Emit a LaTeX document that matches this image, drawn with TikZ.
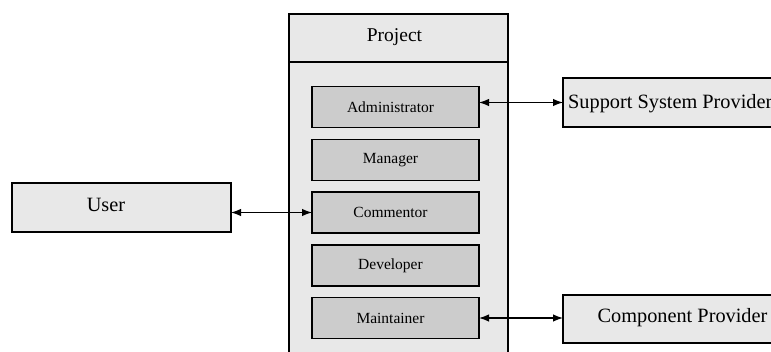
\documentclass[tikz,border=0pt]{standalone}
\usepackage{fontspec}
\setmainfont{Liberation Serif}
\usetikzlibrary{arrows.meta}
\definecolor{panel}{HTML}{E8E8E8}
\definecolor{role}{HTML}{CCCCCC}
\tikzset{
  outerbox/.style={draw=black, line width=1.2pt, fill=panel, inner sep=0pt, outer sep=0pt},
  rolebox/.style={draw=black, line width=1.2pt, fill=role, inner sep=0pt, outer sep=0pt,
    minimum width=167pt, minimum height=41pt, font=\fontsize{15.5}{18}\selectfont,
    execute at begin node={\kern-10pt}},
  actorbox/.style={outerbox, font=\fontsize{19.5}{23}\selectfont},
  actortext/.style={font=\fontsize{20.3}{24}\selectfont, inner sep=0pt},
  link/.style={line width=1.3pt, {Latex[length=10pt,width=7.5pt]}-{Latex[length=10pt,width=7.5pt]}}
}
\begin{document}
\begin{tikzpicture}[x=1pt, y=-1pt]
  \useasboundingbox (0,0) rectangle (771,351);
  \fill[white] (0,0) rectangle (771,351);
  \clip (0,0) rectangle (771,351);

  % project container with its title band
  \node[outerbox, minimum width=219pt, minimum height=48pt, anchor=north west] (project) at (289,14) {};
  \node[font=\fontsize{19.5}{23}\selectfont, inner sep=0pt] (projectlabel) at (394.5,37) {Project};
  \node[outerbox, minimum width=219pt, minimum height=320pt, anchor=north west] (body) at (289,62) {};

  % roles inside the project
  \node[rolebox] (admin) at (395.5,107) {Administrator};
  \node[rolebox] (manager) at (395.5,160) {Manager};
  \node[rolebox] (comm) at (395.5,212.5) {Commentor};
  \node[rolebox] (dev) at (395.5,265.5) {Developer};
  \node[rolebox] (maint) at (395.5,318) {Maintainer};

  % external actors
  \node[actorbox, minimum width=219pt, minimum height=49pt] (user) at (121.5,207.5) {};
  \node[actortext] (userlabel) at (106,205) {User};

  \node[actorbox, minimum width=240pt, minimum height=49pt, anchor=north west] (sup) at (563,78) {};
  \node[actortext, anchor=west] (suplabel)
        at ([xshift=5pt,yshift=-1pt]sup.west) {Support System Provider};

  \node[actorbox, minimum width=239pt, minimum height=48pt, anchor=north west] (comp) at (563,295) {};
  \node[actortext] (complabel) at (682.5,318) {Component Provider};

  % associations
  \draw[link] (admin.east |- sup.west) -- (sup.west);
  \draw[link] (user.east |- comm.west) -- (comm.west);
  \draw[link] (maint.east) -- (maint.east -| comp.west);
\end{tikzpicture}
\end{document}
